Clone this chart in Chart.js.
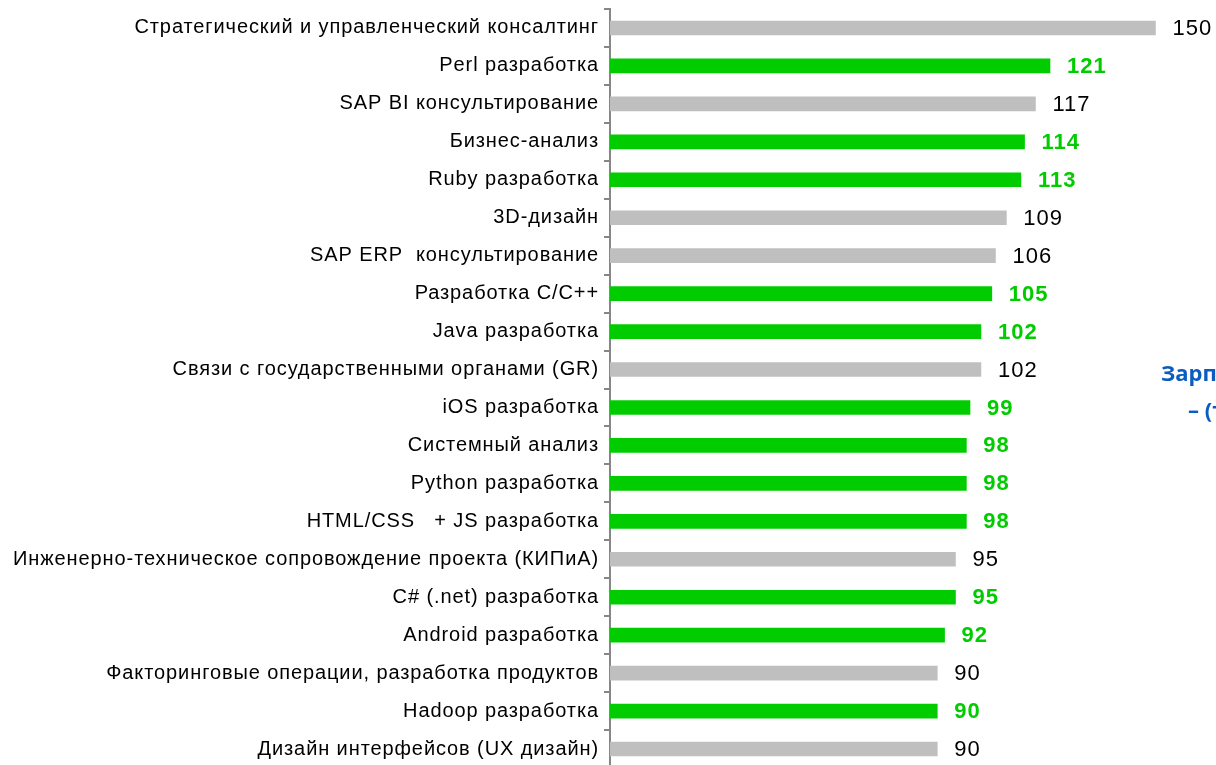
<!DOCTYPE html>
<html>
<head>
<meta charset="utf-8">
<script src="https://cdn.jsdelivr.net/npm/chart.js@4/dist/chart.umd.min.js"></script>
<style>
  html, body { margin: 0; padding: 0; background: #fff; overflow: hidden; }
</style>
</head>
<body>
<canvas id="salary-chart" width="1216" height="768"></canvas>
<script>
'use strict';

const categories = [
  'Стратегический и управленческий консалтинг',
  'Perl разработка',
  'SAP BI консультирование',
  'Бизнес-анализ',
  'Ruby разработка',
  '3D-дизайн',
  'SAP ERP  консультирование',
  'Разработка C/C++',
  'Java разработка',
  'Связи с государственными органами (GR)',
  'iOS разработка',
  'Системный анализ',
  'Python разработка',
  'HTML/CSS   + JS разработка',
  'Инженерно-техническое сопровождение проекта (КИПиА)',
  'C# (.net) разработка',
  'Android разработка',
  'Факторинговые операции, разработка продуктов',
  'Hadoop разработка',
  'Дизайн интерфейсов (UX дизайн)',
];
const values = [150, 121, 117, 114, 113, 109, 106, 105, 102, 102, 99, 98, 98, 98, 95, 95, 92, 90, 90, 90];
// true = IT-разработка (зелёные столбцы)
const highlighted = [false, true, false, true, true, false, false, true, true, false, true, true, true, true, false, true, true, false, true, false];

const GREEN = '#00CC00';
const GRAY = '#BFBFBF';

// разрядка букв как на слайде
const letterSpacing = {
  id: 'letterSpacing',
  beforeDraw(chart) {
    chart.ctx.letterSpacing = '0.9px';
  }
};

const valueLabels = {
  id: 'valueLabels',
  afterDatasetsDraw(chart) {
    const ctx = chart.ctx;
    const meta = chart.getDatasetMeta(0);
    ctx.save();
    ctx.letterSpacing = '1px';
    ctx.textBaseline = 'middle';
    ctx.textAlign = 'left';
    meta.data.forEach((bar, i) => {
      ctx.font = (highlighted[i] ? 'bold ' : '') + '22px "Liberation Sans", Arial, sans-serif';
      ctx.fillStyle = highlighted[i] ? GREEN : '#000';
      ctx.fillText(String(values[i]), bar.x + 17, bar.y + 1);
    });
    ctx.restore();
  }
};

// заголовок справа, обрезан краем слайда
const sideNote = {
  id: 'sideNote',
  afterDraw(chart) {
    const ctx = chart.ctx;
    ctx.save();
    ctx.letterSpacing = '0px';
    ctx.fillStyle = '#0B5CC1';
    ctx.font = 'bold 22px "Open Sans", sans-serif';
    ctx.textBaseline = 'alphabetic';
    ctx.fillText('Зарплаты', 1161, 381);
    ctx.fillText('– (тыс. руб.)', 1188, 418);
    ctx.restore();
  }
};

const chartContext = document.querySelector('#salary-chart').getContext('2d');

const chartConfig = {
  type: 'bar',
  data: {
    labels: categories,
    datasets: [
      {
        data: values,
        backgroundColor: highlighted.map((h) => (h ? GREEN : GRAY)),
        barThickness: 14,
        borderWidth: 0,
      }
    ]
  },
  options: {
    indexAxis: 'y',
    responsive: false,
    animation: false,
    devicePixelRatio: 1,
    layout: {
      padding: { top: 9, right: 6, bottom: 0, left: 0 }
    },
    scales: {
      x: {
        display: false,
        min: 0,
        max: 165,
      },
      y: {
        afterFit(scale) {
          scale.width = 610;
          scale.paddingTop = 0;
          scale.paddingBottom = 0;
        },
        border: { color: '#868686', width: 2 },
        grid: {
          drawOnChartArea: false,
          drawTicks: true,
          tickLength: 6,
          color: '#868686',
          lineWidth: 2,
        },
        ticks: {
          color: '#000',
          padding: 5,
          autoSkip: false,
          font: { family: '"Liberation Sans", Arial, sans-serif', size: 20 },
        }
      }
    },
    plugins: {
      legend: { display: false },
      tooltip: { enabled: false },
    }
  },
  plugins: [letterSpacing, valueLabels, sideNote],
};

const chart = new Chart(chartContext, chartConfig);
</script>
</body>
</html>
